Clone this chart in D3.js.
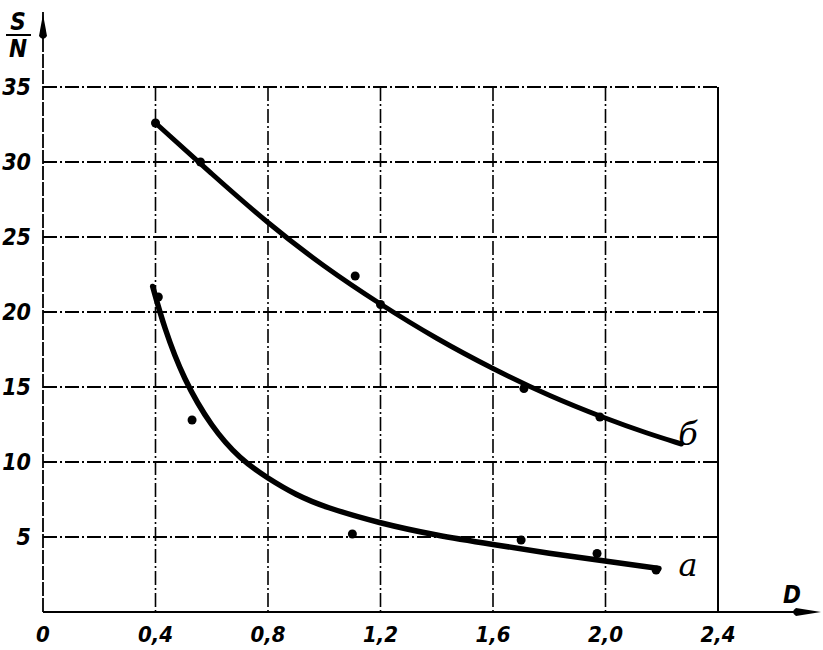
<!DOCTYPE html>
<html><head><meta charset="utf-8">
<script src="https://cdn.jsdelivr.net/npm/d3@7"></script>
<style>
html,body{margin:0;padding:0;background:#fff;}
svg text{font-family:"DejaVu Sans Condensed","DejaVu Sans",sans-serif;font-style:italic;font-weight:bold;fill:#000;}
</style></head>
<body>
<svg id="chart" width="823" height="650"></svg>
<script>
// ---- data ----
const xTicks = [0, 0.4, 0.8, 1.2, 1.6, 2.0, 2.4];
const xTickLabels = ["0", "0,4", "0,8", "1,2", "1,6", "2,0", "2,4"];
const yTicks = [5, 10, 15, 20, 25, 30, 35];
const yTickLabels = ["5", "10", "15", "20", "25", "30", "35"];

// curve "б" (upper)
const curveB = [[0.4,32.6],[0.6,29.2],[0.8,25.9],[1.0,23.0],[1.2,20.5],[1.4,18.2],[1.6,16.2],[1.8,14.4],[2.0,12.9],[2.15,11.9],[2.27,11.2]];
const pointsB = [[0.4,32.6],[0.56,30.0],[1.11,22.4],[1.2,20.5],[1.71,14.9],[1.98,13.0]];
// curve "a" (lower)
const curveA = [[0.39,21.7],[0.43,19.0],[0.5,15.5],[0.6,12.3],[0.7,10.2],[0.8,8.9],[0.9,7.8],[1.0,7.0],[1.2,5.9],[1.4,5.1],[1.6,4.5],[1.8,3.9],[2.0,3.4],[2.19,2.9]];
const pointsA = [[0.41,21.0],[0.53,12.8],[1.1,5.2],[1.7,4.8],[1.97,3.9],[2.18,2.8]];
const seriesLabels = ["б", "a"];
const axisTitleX = "D";
const axisTitleYTop = "S";
const axisTitleYBottom = "N";

// ---- drawing ----
const svg = d3.select("#chart");
const x = d3.scaleLinear().domain([0, 2.4]).range([43, 718]);
const y = d3.scaleLinear().domain([0, 35]).range([612, 87]);

const gridDash = "14,3,2,3";
// vertical gridlines
svg.append("g").selectAll("line").data(xTicks.slice(1)).join("line")
  .attr("x1", d => x(d)).attr("x2", d => x(d))
  .attr("y1", y(35)).attr("y2", y(0))
  .attr("stroke", "#000").attr("stroke-width", d => d === 2.4 ? 2 : 1.6)
  .attr("stroke-dasharray", d => d === 2.4 ? null : gridDash);
// horizontal gridlines
svg.append("g").selectAll("line").data(yTicks).join("line")
  .attr("x1", x(0)).attr("x2", x(2.4))
  .attr("y1", d => y(d)).attr("y2", d => y(d))
  .attr("stroke", "#000").attr("stroke-width", 2).attr("stroke-dasharray", gridDash);

// axes
svg.append("line").attr("x1", x(0)).attr("x2", 812).attr("y1", y(0)).attr("y2", y(0))
  .attr("stroke", "#000").attr("stroke-width", 2.2);
svg.append("line").attr("x1", x(0)).attr("x2", x(0)).attr("y1", y(0)).attr("y2", 12)
  .attr("stroke", "#000").attr("stroke-width", 1.8).attr("stroke-dasharray", "14,2");
// arrow heads
svg.append("path").attr("d", `M${x(0)},14 L${x(0)+4},36 Q${x(0)},42 ${x(0)-4},36 Z`).attr("fill", "#000");
svg.append("path").attr("d", `M821,${y(0)} L796,${y(0)-4} Q790,${y(0)} 796,${y(0)+4} Z`).attr("fill", "#000");

// tick labels
svg.append("g").selectAll("text").data(yTicks).join("text")
  .attr("x", 31).attr("y", d => y(d) + 8).attr("text-anchor", "end")
  .attr("font-size", 23).text((d, i) => yTickLabels[i]);
svg.append("g").selectAll("text").data(xTicks).join("text")
  .attr("x", d => x(d)).attr("y", 642).attr("text-anchor", "middle")
  .attr("font-size", 22).text((d, i) => xTickLabels[i]);

// axis titles
svg.append("text").attr("x", 18).attr("y", 30).attr("text-anchor", "middle").attr("font-size", 24).text(axisTitleYTop);
svg.append("line").attr("x1", 6).attr("x2", 31).attr("y1", 35).attr("y2", 35).attr("stroke", "#000").attr("stroke-width", 2);
svg.append("text").attr("x", 18).attr("y", 57).attr("text-anchor", "middle").attr("font-size", 24).text(axisTitleYBottom);
svg.append("text").attr("x", 792).attr("y", 603).attr("text-anchor", "middle").attr("font-size", 24).text(axisTitleX);

// curves
const line = d3.line().x(d => x(d[0])).y(d => y(d[1])).curve(d3.curveBasis);
svg.append("path").datum(curveB).attr("d", line).attr("fill", "none").attr("stroke", "#000").attr("stroke-width", 5).attr("stroke-linecap", "round");
svg.append("path").datum(curveA).attr("d", line).attr("fill", "none").attr("stroke", "#000").attr("stroke-width", 5.5).attr("stroke-linecap", "round");

// data points
svg.append("g").selectAll("circle").data(pointsB.concat(pointsA)).join("circle")
  .attr("cx", d => x(d[0])).attr("cy", d => y(d[1])).attr("r", 4.5).attr("fill", "#000");

// series labels
svg.append("text").attr("x", 688).attr("y", 445).attr("text-anchor", "middle")
  .attr("font-size", 32).style("font-weight", "normal").style("font-family", "'DejaVu Serif',serif").text(seriesLabels[0]);
svg.append("text").attr("x", 688).attr("y", 576).attr("text-anchor", "middle")
  .attr("font-size", 32).style("font-weight", "normal").style("font-family", "'DejaVu Serif',serif").text(seriesLabels[1]);
</script>
</body></html>
